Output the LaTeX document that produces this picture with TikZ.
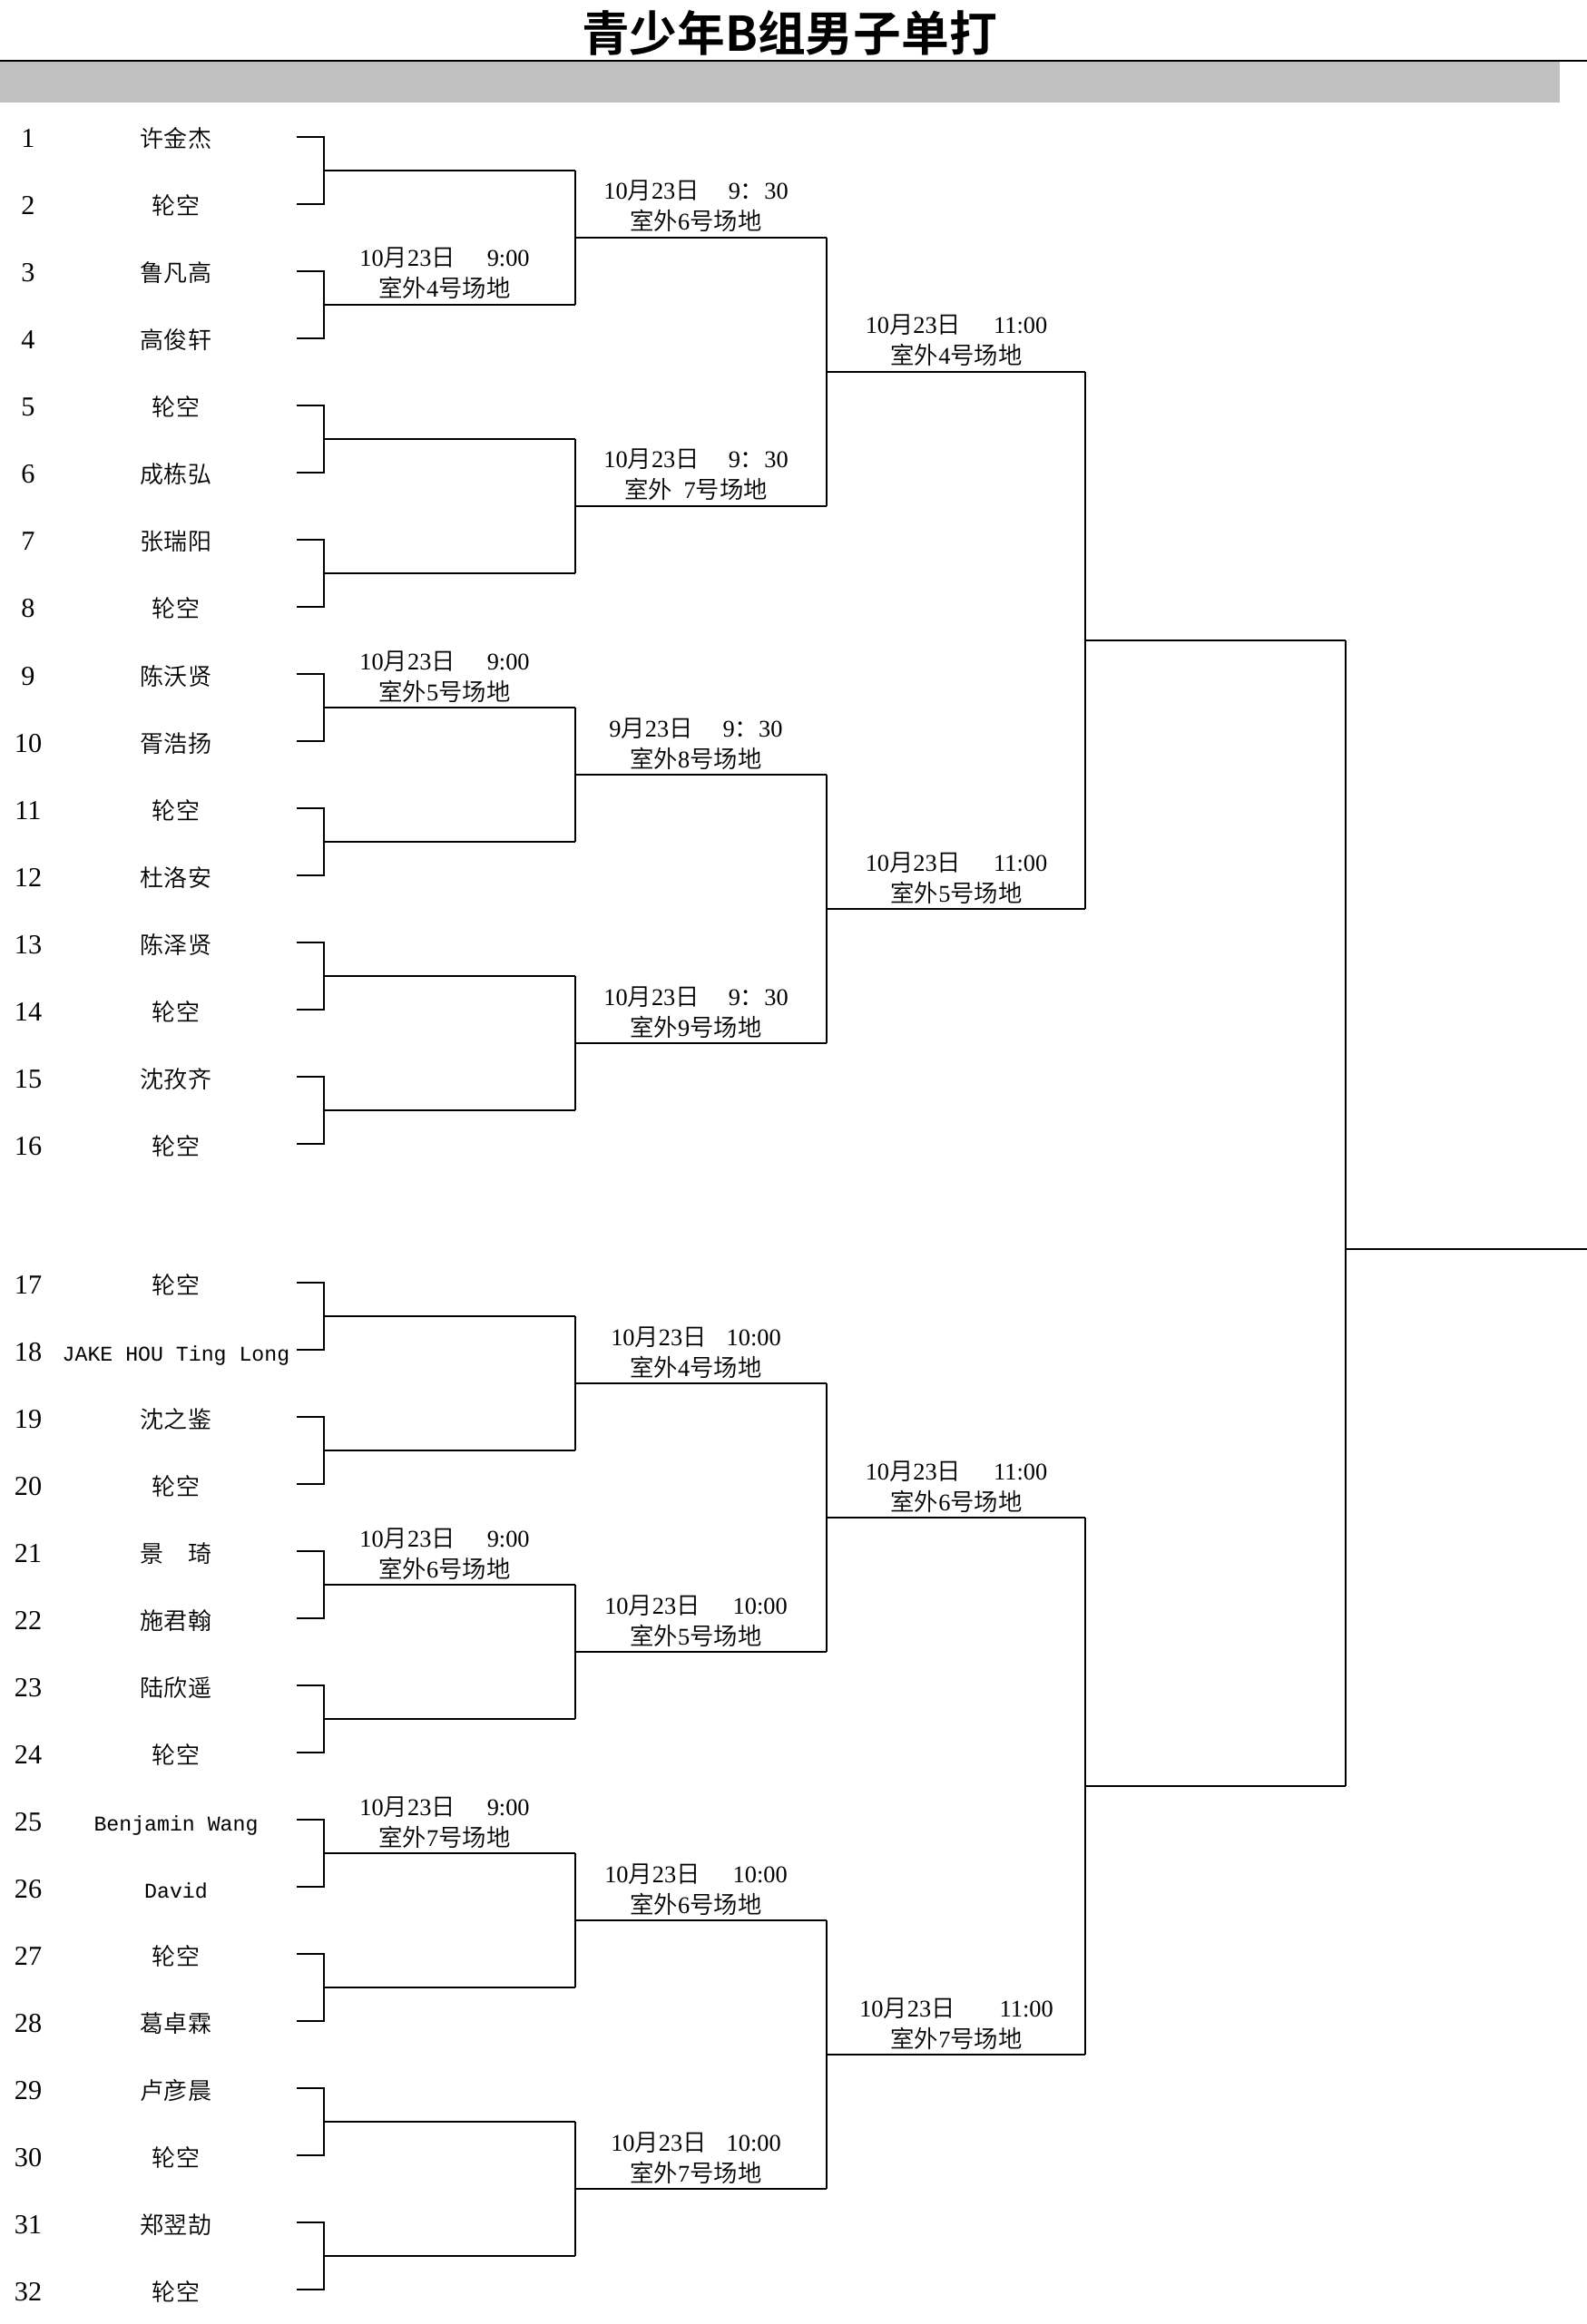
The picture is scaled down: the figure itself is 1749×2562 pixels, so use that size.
\documentclass[tikz,border=0pt]{standalone}
\usepackage{fontspec}
\setmainfont{Liberation Serif}
\newfontfamily\cjk{Noto Sans CJK SC DemiLight}
\newfontfamily\cjkbold{Noto Sans CJK SC Bold}
\newfontfamily\latmono{Liberation Mono}
\newcommand\C[1]{{\cjk #1}}
\newcommand\lm{\latmono\fontsize{6.6}{8}\selectfont}
\definecolor{hdr}{HTML}{C0C0C0}
\tikzset{
  br/.style={line width=0.2mm},
  numst/.style={anchor=base,inner sep=0pt,font=\fontsize{8.6}{10}\selectfont},
  namest/.style={anchor=base,inner sep=0pt,font=\cjk\fontsize{7.4}{9}\selectfont},
  lbl/.style={anchor=base,inner sep=0pt,font=\fontsize{7.5}{9}\selectfont},
}
\begin{document}
\begin{tikzpicture}[x=0.1mm,y=-0.1mm]
\useasboundingbox (0,0) rectangle (1749,2562);
% header
\node[anchor=base,inner sep=0pt,font=\cjkbold\fontsize{15}{18}\selectfont] (title) at (870,57) {青少年B组男子单打};
\fill[hdr] (0,68) rectangle (1719,113);
\coordinate (HL) at (0,67);
\coordinate (HR) at (1749,67);
\draw[br] (HL) -- (HR);
% players
\foreach \k/\nm in {1/许金杰,2/轮空,3/鲁凡高,4/高俊轩,5/轮空,6/成栋弘,7/张瑞阳,8/轮空,
  9/陈沃贤,10/胥浩扬,11/轮空,12/杜洛安,13/陈泽贤,14/轮空,15/沈孜齐,16/轮空,
  17/轮空,18/{\lm JAKE HOU Ting Long},19/沈之鉴,20/轮空,21/景　琦,22/施君翰,23/陆欣遥,24/轮空,
  25/{\lm Benjamin Wang},26/{\lm David},27/轮空,28/葛卓霖,29/卢彦晨,30/轮空,31/郑翌劼,32/轮空}{
  \pgfmathsetmacro\yy{\k<17 ? 151+(\k-1)*74 : 1414+(\k-17)*74}
  \coordinate (P\k) at (327,\yy);
  \node[numst] (N\k) at (31,\yy+12) {\k};
  \node[namest] (S\k) at (194,\yy+12) {\nm};
}
% round 1
\foreach \m in {1,...,16}{
  \pgfmathtruncatemacro\a{2*\m-1}
  \pgfmathtruncatemacro\b{2*\m}
  \pgfmathsetmacro\yy{\m<9 ? 188+(\m-1)*148 : 1451+(\m-9)*148}
  \coordinate (J1-\m) at (357,\yy);
  \coordinate (E1-\m) at (634,\yy);
  \draw[br] (P\a) -| (J1-\m) |- (P\b);
  \draw[br] (J1-\m) -- (E1-\m);
}
% round 2
\foreach \m in {1,...,8}{
  \pgfmathtruncatemacro\a{2*\m-1}
  \pgfmathtruncatemacro\b{2*\m}
  \pgfmathsetmacro\yy{\m<5 ? 262+(\m-1)*296 : 1525+(\m-5)*296}
  \coordinate (J2-\m) at (634,\yy);
  \coordinate (E2-\m) at (911,\yy);
  \draw[br] (E1-\a) -- (E1-\b) (J2-\m) -- (E2-\m);
}
% round 3
\foreach \m/\yy in {1/410,2/1002,3/1673,4/2265}{
  \pgfmathtruncatemacro\a{2*\m-1}
  \pgfmathtruncatemacro\b{2*\m}
  \coordinate (J3-\m) at (911,\yy);
  \coordinate (E3-\m) at (1196,\yy);
  \draw[br] (E2-\a) -- (E2-\b) (J3-\m) -- (E3-\m);
}
% round 4
\foreach \m/\yy in {1/706,2/1969}{
  \pgfmathtruncatemacro\a{2*\m-1}
  \pgfmathtruncatemacro\b{2*\m}
  \coordinate (J4-\m) at (1196,\yy);
  \coordinate (E4-\m) at (1483,\yy);
  \draw[br] (E3-\a) -- (E3-\b) (J4-\m) -- (E4-\m);
}
% final
\coordinate (F) at (1483,1377);
\coordinate (W) at (1749,1377);
\draw[br] (E4-1) -- (E4-2) (F) -- (W);
% match labels: round 1
\foreach \yy/\ct [count=\i] in {336/4,780/5,1747/6,2043/7}{
  \node[lbl] (A1d\i) at (490,\yy-42) {10\C{月}23\C{日}\hspace{3.5mm}9:00};
  \node[lbl] (A1c\i) at (490,\yy-8) {\C{室外}\ct\C{号场地}};
}
% round 2
\node[lbl] (A2d1) at (767,262-42) {10\C{月}23\C{日}\hspace{3.2mm}9\C{：}30};
\node[lbl] (A2c1) at (767,262-8) {\C{室外}6\C{号场地}};
\node[lbl] (A2d2) at (767,558-42) {10\C{月}23\C{日}\hspace{3.2mm}9\C{：}30};
\node[lbl] (A2c2) at (767,558-8) {\C{室外}\hspace{1.3mm}7\C{号场地}};
\node[lbl] (A2d3) at (767,854-42) {9\C{月}23\C{日}\hspace{3.3mm}9\C{：}30};
\node[lbl] (A2c3) at (767,854-8) {\C{室外}8\C{号场地}};
\node[lbl] (A2d4) at (767,1150-42) {10\C{月}23\C{日}\hspace{3.2mm}9\C{：}30};
\node[lbl] (A2c4) at (767,1150-8) {\C{室外}9\C{号场地}};
\node[lbl] (A2d5) at (767,1525-42) {10\C{月}23\C{日}\hspace{2.2mm}10:00};
\node[lbl] (A2c5) at (767,1525-8) {\C{室外}4\C{号场地}};
\node[lbl] (A2d6) at (767,1821-42) {10\C{月}23\C{日}\hspace{3.6mm}10:00};
\node[lbl] (A2c6) at (767,1821-8) {\C{室外}5\C{号场地}};
\node[lbl] (A2d7) at (767,2117-42) {10\C{月}23\C{日}\hspace{3.6mm}10:00};
\node[lbl] (A2c7) at (767,2117-8) {\C{室外}6\C{号场地}};
\node[lbl] (A2d8) at (767,2413-42) {10\C{月}23\C{日}\hspace{2.2mm}10:00};
\node[lbl] (A2c8) at (767,2413-8) {\C{室外}7\C{号场地}};
% round 3
\node[lbl] (A3d1) at (1054,410-42) {10\C{月}23\C{日}\hspace{3.6mm}11:00};
\node[lbl] (A3c1) at (1054,410-8) {\C{室外}4\C{号场地}};
\node[lbl] (A3d2) at (1054,1002-42) {10\C{月}23\C{日}\hspace{3.6mm}11:00};
\node[lbl] (A3c2) at (1054,1002-8) {\C{室外}5\C{号场地}};
\node[lbl] (A3d3) at (1054,1673-42) {10\C{月}23\C{日}\hspace{3.6mm}11:00};
\node[lbl] (A3c3) at (1054,1673-8) {\C{室外}6\C{号场地}};
\node[lbl] (A3d4) at (1054,2265-42) {10\C{月}23\C{日}\hspace{4.9mm}11:00};
\node[lbl] (A3c4) at (1054,2265-8) {\C{室外}7\C{号场地}};
\end{tikzpicture}
\end{document}
